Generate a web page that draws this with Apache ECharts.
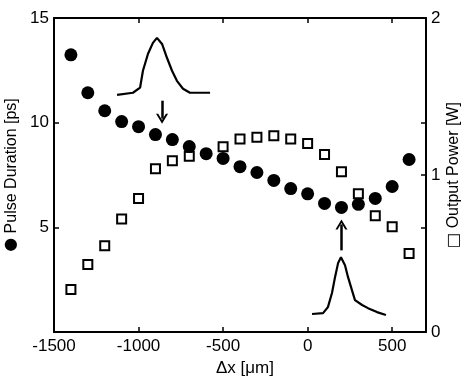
<!DOCTYPE html>
<html><head><meta charset="utf-8">
<script src="https://cdn.jsdelivr.net/npm/echarts@6/dist/echarts.min.js"></script>
<style>html,body{margin:0;padding:0;background:#fff}#c{width:466px;height:376px}</style>
</head><body><div id="c"></div>
<script>
// Δx positions [μm]
const offsets = [-1400,-1300,-1200,-1100,-1000,-900,-800,-700,-600,-500,-400,-300,-200,-100,0,100,200,300,400,500,600];
// Pulse duration [ps] (filled circles, left axis)
const pulseDuration = [13.24,11.43,10.57,10.05,9.81,9.43,9.19,8.86,8.52,8.29,7.9,7.62,7.24,6.85,6.6,6.14,5.95,6.1,6.38,6.95,8.24];
// Output power [W] (open squares, right axis); -600 point not visible
const outputPower = [0.27,0.43,0.55,0.72,0.85,1.04,1.09,1.12,null,1.18,1.23,1.24,1.25,1.23,1.2,1.13,1.02,0.88,0.74,0.67,0.50];
// Inset pulse shapes (drawn in left-axis units)
const inset1X = [-1127,-1033,-991,-974,-944,-915,-891,-861,-832,-802,-773,-737,-696,-637,-577];
const inset1Y = [11.33,11.43,11.67,12.48,13.29,13.81,14.05,13.76,13.1,12.48,12.0,11.62,11.43,11.43,11.43];
const inset2X = [26,91,120,144,162,180,197,221,239,262,280,322,357,410,463];
const inset2Y = [0.86,0.9,1.19,1.86,2.62,3.29,3.57,3.19,2.62,2.0,1.52,1.29,1.14,0.95,0.81];
// Arrows: [x, yStart, yEnd]
const arrow1 = [-861, 11.05, 10.19];
const arrow2 = [200, 3.9, 5.14];

const FONT = "'Liberation Sans', Arial, sans-serif";
const chart = echarts.init(document.getElementById('c'));
const axisLine = {show:true, onZero:false, lineStyle:{color:'#000', width:2}};
const tick = {show:true, inside:true, length:5, lineStyle:{color:'#000', width:1.5}};
const lbl = {color:'#000', fontSize:17, fontFamily:FONT};
const nameStyle = {color:'#000', fontSize:16, fontFamily:FONT, rich:{s:{fontSize:16, color:'#000', fontFamily:'DejaVu Sans'}}};
const pair = (xs, ys) => xs.map((x,i)=>[x, ys[i]]);
const chevron = 'path://M0,10 L5,0 L10,10 L8.2,10 L5,3.6 L1.8,10 Z';
chart.setOption({
  animation:false,
  backgroundColor:'#fff',
  grid:{left:54, right:40, top:18, bottom:44, containLabel:false, outerBoundsMode:'none'},
  xAxis:[
    {type:'value', position:'bottom', min:-1500, max:700, interval:500,
     axisLine, axisTick:tick, splitLine:{show:false},
     axisLabel:Object.assign({margin:6, formatter:v=>v>600?'':String(v)}, lbl),
     name:'Δx [μm]', nameLocation:'middle', nameGap:27,
     nameTextStyle:{color:'#000', fontSize:17, fontFamily:FONT, padding:[0,0,0,10]}},
    {type:'value', position:'top', min:-1500, max:700, interval:500,
     axisLine, axisTick:tick, splitLine:{show:false}, axisLabel:{show:false}}
  ],
  yAxis:[
    {type:'value', position:'left', min:0, max:15, interval:5,
     axisLine, axisTick:tick, splitLine:{show:false},
     axisLabel:Object.assign({margin:5, formatter:v=>v===0?'':String(v)}, lbl),
     name:'{s|●} Pulse Duration [ps]', nameLocation:'middle', nameGap:32,
     nameTextStyle:nameStyle},
    {type:'value', position:'right', min:0, max:2, interval:1,
     axisLine, axisTick:tick, splitLine:{show:false},
     axisLabel:Object.assign({margin:5}, lbl),
     name:'{s|□} Output Power [W]', nameLocation:'middle', nameGap:20, nameMoveOverlap:false,
     nameTextStyle:nameStyle},
    {type:'value', position:'right', min:0, max:15, interval:5,
     axisLine:{show:false, onZero:false}, axisTick:tick, splitLine:{show:false}, axisLabel:{show:false}}
  ],
  series:[
    {type:'scatter', yAxisIndex:1, z:2, symbol:'rect', symbolSize:9,
     itemStyle:{color:'#fff', borderColor:'#000', borderWidth:2, opacity:1},
     data:pair(offsets, outputPower).filter(p=>p[1]!==null)},
    {type:'scatter', yAxisIndex:0, z:3, symbol:'circle', symbolSize:13,
     itemStyle:{color:'#000', opacity:1},
     data:pair(offsets, pulseDuration)},
    {type:'line', yAxisIndex:0, z:1, symbol:'none', lineStyle:{color:'#000', width:2.2},
     data:pair(inset1X, inset1Y)},
    {type:'line', yAxisIndex:0, z:1, symbol:'none', lineStyle:{color:'#000', width:2.2},
     data:pair(inset2X, inset2Y),
     markLine:{silent:true, symbol:['none', chevron], symbolSize:[12,10], label:{show:false},
       lineStyle:{color:'#000', width:2.5, type:'solid'},
       data:[
         [{coord:[arrow1[0], arrow1[1]]},{coord:[arrow1[0], arrow1[2]]}],
         [{coord:[arrow2[0], arrow2[1]]},{coord:[arrow2[0], arrow2[2]]}]
       ]}}
  ]
});
</script></body></html>
